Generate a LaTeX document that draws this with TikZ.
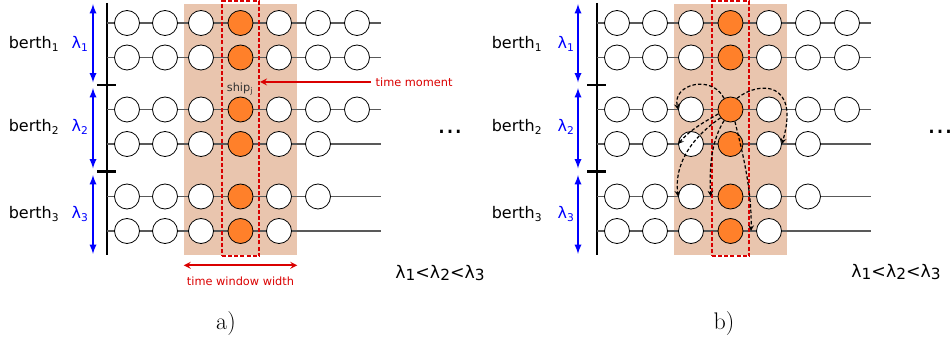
\documentclass[tikz,border=0pt]{standalone}
\usepackage{fontspec}
\newfontfamily\dejavu{DejaVu Sans}
\usepackage{xcolor}
\usepackage{tikz}
\usetikzlibrary{arrows, calc}

\definecolor{shiporange}{RGB}{255,128,42}
\definecolor{windowtan}{RGB}{233,197,174}
\definecolor{markred}{RGB}{218,0,0}

\begin{document}
\begin{tikzpicture}[
  x=0.75pt, y=-0.75pt,
  slot/.style={circle, draw, fill=white, minimum size=18.75pt, inner sep=0pt, line width=0.6pt},
  shipslot/.style={slot, fill=shiporange},
  rowline/.style={draw=black!65, line width=0.8pt},
  quay/.style={line width=1.4pt},
  quaytick/.style={line width=2.2pt},
  berthspan/.style={<->, >=latex, draw=blue, line width=1.4pt},
  lbl/.style={font=\dejavu\fontsize{12}{14}\selectfont},
  lam/.style={lbl, text=blue},
  note/.style={font=\dejavu\fontsize{8.5}{10}\selectfont, text=markred},
  winbox/.style={fill=windowtan, minimum width=84.75pt, minimum height=188.25pt, inner sep=0pt},
  shipwin/.style={draw=markred, dash pattern=on 3pt off 1.6pt, line width=1.5pt, minimum width=27.75pt, minimum height=191.25pt, inner sep=0pt},
  move/.style={->, >=stealth, dash pattern=on 2.6pt off 1.6pt, line width=0.9pt},
  redarrow/.style={>=stealth, draw=markred, line width=1.3pt}
]
\useasboundingbox (0,0) rectangle (951,342);

% both panels: berths, time lines and slots
\foreach \p/\dx/\ax/\lx/\bx/\cx in {a/0/93/80/34/226, b/490/88/76/27/234} {
\begin{scope}[shift={(\dx,0)}]
  % time window
  \node[winbox] (\p win) at (240.5,129.5) {};

  % quay line and berth boundaries
  \coordinate (\p top) at (107,3);
  \coordinate (\p bot) at (107,255);
  \draw[quay] (\p top) -- (\p bot);
  \coordinate (\p t1l) at (97,85);
  \coordinate (\p t1r) at (116,85);
  \coordinate (\p t2l) at (97,171.5);
  \coordinate (\p t2r) at (116,171.5);
  \draw[quaytick] (\p t1l) -- (\p t1r);
  \draw[quaytick] (\p t2l) -- (\p t2r);

  % berth lengths
  \foreach \k/\ya/\yb/\ym in {1/4/82.5/44, 2/88/168.5/127, 3/175/254/214} {
    \coordinate (\p s\k a) at (\ax,\ya);
    \coordinate (\p s\k b) at (\ax,\yb);
    \draw[berthspan] (\p s\k a) -- (\p s\k b);
    \node[lam] (\p lam\k) at (\lx,\ym) {λ\textsubscript{\k}};
    \node[lbl] (\p berth\k) at (\bx,\ym) {berth\textsubscript{\k}};
  }

  % time lines with slots
  \foreach \r/\y/\n in {1/23/7, 2/57.5/7, 3/109.5/7, 4/144/6, 5/196.5/6, 6/231/5} {
    \coordinate (\p q\r) at (107,\y);
    \coordinate (\p e\r) at (381,\y);
    \draw[rowline] (\p q\r) -- (\p e\r);
    \foreach \c in {1,...,\n} {
      \pgfmathsetmacro\x{{127,165,201,240.5,279,318,357}[\c-1]}
      \ifnum\c=4
        \node[shipslot] (\p\r\c) at (\x,\y) {};
      \else
        \node[slot] (\p\r\c) at (\x,\y) {};
      \fi
    }
  }

  % selected ship
  \node[shipwin] (\p ship) at (240.5,129) {};

  \node[font=\dejavu\fontsize{20}{20}\selectfont] (\p dots) at (450,132) {...};
  \node[font=\fontsize{18}{20}\selectfont] (\p cap) at (\cx,324) {\p)};
\end{scope}
}

% order of berth lengths
\node[font=\dejavu\fontsize{13}{15}\selectfont] (aorder) at (440,273)
  {λ{\fontsize{11.5}{12}\selectfont\raisebox{-1.5pt}{1}}<λ{\fontsize{11.5}{12}\selectfont\raisebox{-1.5pt}{2}}<λ{\fontsize{11.5}{12}\selectfont\raisebox{-1.5pt}{3}}};
\node[font=\dejavu\fontsize{13}{15}\selectfont] (border) at (896,272)
  {λ{\fontsize{11.5}{12}\selectfont\raisebox{-1.5pt}{1}}<λ{\fontsize{11.5}{12}\selectfont\raisebox{-1.5pt}{2}}<λ{\fontsize{11.5}{12}\selectfont\raisebox{-1.5pt}{3}}};

% panel a: notes
\node[font=\dejavu\fontsize{8.5}{10}\selectfont, text=black!80] (shipj) at (240,89) {ship\textsubscript{j}};
\node[note, anchor=west] (moment) at (371,82) {time moment};
\draw[->, redarrow] (moment.west) -- (moment.west -| aship.east);
\draw[<->, redarrow]
  ($(awin.south west)+(0,10)$) -- ($(awin.south east)+(0,10)$);
\node[note] (width) at (240.5,281) {time window width};

% panel b: moves of ship j to other berths
\draw[move] (b34.120) .. controls (712,74) and (672,84) .. (b33.west);
\draw[move] (b34.60) .. controls (760,80) and (800,82) .. (b45.east);
\draw[move] (b34.200) .. controls (704,122) and (690,130) .. (b43.west);
\draw[move] (b34.220) .. controls (694,136) and (674,162) .. (b53.west);
\draw[move] (b34.240) .. controls (712,140) and (709,165) .. ($(b53.east)!0.5!(b54.west)$);
\draw[move] (b34.290) .. controls (742,150) and (752,190) .. ($(b64.east)!0.6!(b65.west)$);

\end{tikzpicture}
\end{document}
